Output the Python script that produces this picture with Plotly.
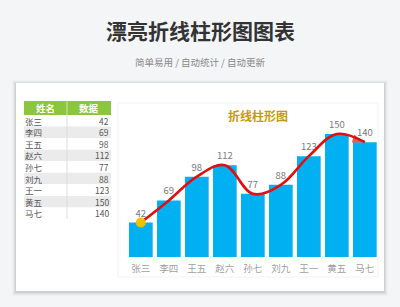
import plotly.graph_objects as go

names = ["张三", "李四", "王五", "赵六", "孙七", "刘九", "王一", "黄五", "马七"]
values = [42, 69, 98, 112, 77, 88, 123, 150, 140]

W, H = 400, 307
FONT = "Noto Sans CJK SC"

def px(x):
    return x / W

def py(y):
    return 1 - y / H

fig = go.Figure()

fig.add_trace(go.Bar(
    x=names, y=values, marker=dict(color="#00b0f0", line=dict(width=0)),
    text=values, textposition="outside", cliponaxis=False,
    textfont=dict(size=9.5, color="#7a7a7a", family=FONT),
    hoverinfo="skip", showlegend=False,
))

n = len(values)
fig.add_trace(go.Scatter(
    x=names, y=values, mode="lines+markers",
    line=dict(color="#e01010", width=2.6, shape="spline", smoothing=1.05),
    marker=dict(size=[0] * (n - 1) + [13], symbol=["circle"] * (n - 1) + ["arrow"],
                angleref="previous", color="#e01010", line=dict(width=0)),
    hoverinfo="skip", showlegend=False,
))
fig.add_trace(go.Scatter(
    x=[names[0]], y=[values[0]], mode="markers",
    marker=dict(size=10, color="#f5c000", line=dict(width=0)),
    hoverinfo="skip", showlegend=False,
))

shapes = []
# card shadow
for pad, op in [(4, 0.02), (3, 0.03), (2, 0.045), (1, 0.06)]:
    shapes.append(dict(type="rect", xref="paper", yref="paper", layer="below",
                       x0=px(16 - pad), x1=px(384 + pad), y0=py(83 - pad + 1), y1=py(291 + pad + 1),
                       fillcolor=f"rgba(0,0,0,{op})", line=dict(width=0)))
shapes.append(dict(type="rect", xref="paper", yref="paper", layer="below",
                   x0=px(16), x1=px(384), y0=py(83), y1=py(291),
                   fillcolor="#ffffff", line=dict(width=0)))
# chart panel
shapes.append(dict(type="rect", xref="paper", yref="paper", layer="below",
                   x0=px(118), x1=px(378), y0=py(103), y1=py(277),
                   fillcolor="rgba(0,0,0,0)", line=dict(width=1, color="#f3f3f3")))

# table
tx0, tx1, tmid = 24, 111, 67
hy0, hy1 = 101, 115
rh = (219 - 115) / 9
shapes.append(dict(type="rect", xref="paper", yref="paper", layer="below",
                   x0=px(tx0), x1=px(tx1), y0=py(hy0), y1=py(hy1),
                   fillcolor="#8cc63f", line=dict(width=0)))
annotations = []
for i, (nm, v) in enumerate(zip(names, values)):
    y0 = hy1 + i * rh
    y1 = y0 + rh
    fill = "#ebebeb" if i % 2 == 1 else "#ffffff"
    shapes.append(dict(type="rect", xref="paper", yref="paper", layer="below",
                       x0=px(tx0), x1=px(tx1), y0=py(y0), y1=py(y1),
                       fillcolor=fill, line=dict(width=0)))
    annotations.append(dict(x=px(tx0), y=py((y0 + y1) / 2), xref="paper", yref="paper",
                            text=nm, showarrow=False, xanchor="left", yanchor="middle",
                            borderpad=0, height=10,
                            font=dict(size=8.5, color="#555555", family=FONT)))
    annotations.append(dict(x=px(tx1 - 1), y=py((y0 + y1) / 2), xref="paper", yref="paper",
                            text=str(v), showarrow=False, xanchor="right", yanchor="middle",
                            borderpad=0, height=10,
                            font=dict(size=8.5, color="#555555", family=FONT)))
shapes.append(dict(type="line", xref="paper", yref="paper", layer="below",
                   x0=px(tmid), x1=px(tmid), y0=py(hy0), y1=py(219),
                   line=dict(width=1, color="#dddddd")))
shapes.append(dict(type="line", xref="paper", yref="paper", layer="below",
                   x0=px(tmid), x1=px(tmid), y0=py(hy0), y1=py(hy1),
                   line=dict(width=1, color="#a8d46f")))
annotations.append(dict(x=px((tx0 + tmid) / 2), y=py((hy0 + hy1) / 2), xref="paper", yref="paper",
                        text="<b>姓名</b>", showarrow=False, xanchor="center", yanchor="middle",
                        borderpad=0, height=12,
                        font=dict(size=9.5, color="#ffffff", family=FONT)))
annotations.append(dict(x=px((tmid + tx1) / 2), y=py((hy0 + hy1) / 2), xref="paper", yref="paper",
                        text="<b>数据</b>", showarrow=False, xanchor="center", yanchor="middle",
                        borderpad=0, height=12,
                        font=dict(size=9.5, color="#ffffff", family=FONT)))

# titles
annotations.append(dict(x=0.5, y=py(30), xref="paper", yref="paper", text="<b>漂亮折线柱形图图表</b>",
                        showarrow=False, xanchor="center", yanchor="middle",
                        font=dict(size=21, color="#333333", family=FONT)))
annotations.append(dict(x=0.5, y=py(62), xref="paper", yref="paper", text="简单易用 / 自动统计 / 自动更新",
                        showarrow=False, xanchor="center", yanchor="middle",
                        font=dict(size=9.5, color="#888888", family=FONT)))
annotations.append(dict(x=px(258), y=py(116), xref="paper", yref="paper", text="<b>折线柱形图</b>",
                        showarrow=False, xanchor="center", yanchor="middle",
                        font=dict(size=12, color="#c49a0a", family=FONT)))

fig.update_layout(
    width=W, height=H, margin=dict(l=0, r=0, t=0, b=0),
    paper_bgcolor="#f4f5f7", plot_bgcolor="rgba(0,0,0,0)",
    bargap=0.155,
    shapes=shapes, annotations=annotations,
    xaxis=dict(domain=[px(126.85), px(378.85)], range=[-0.5, 8.5], showgrid=False,
               zeroline=False, showline=False, ticks="", ticklabelstandoff=4,
               tickfont=dict(size=9.5, color="#a0a0a0", family=FONT), fixedrange=True),
    yaxis=dict(domain=[py(257), py(257 - 170 * 0.82)], range=[0, 170], visible=False,
               showgrid=False, zeroline=False, fixedrange=True),
    font=dict(family=FONT),
)

fig.write_html("out.html", config={"displayModeBar": False})
